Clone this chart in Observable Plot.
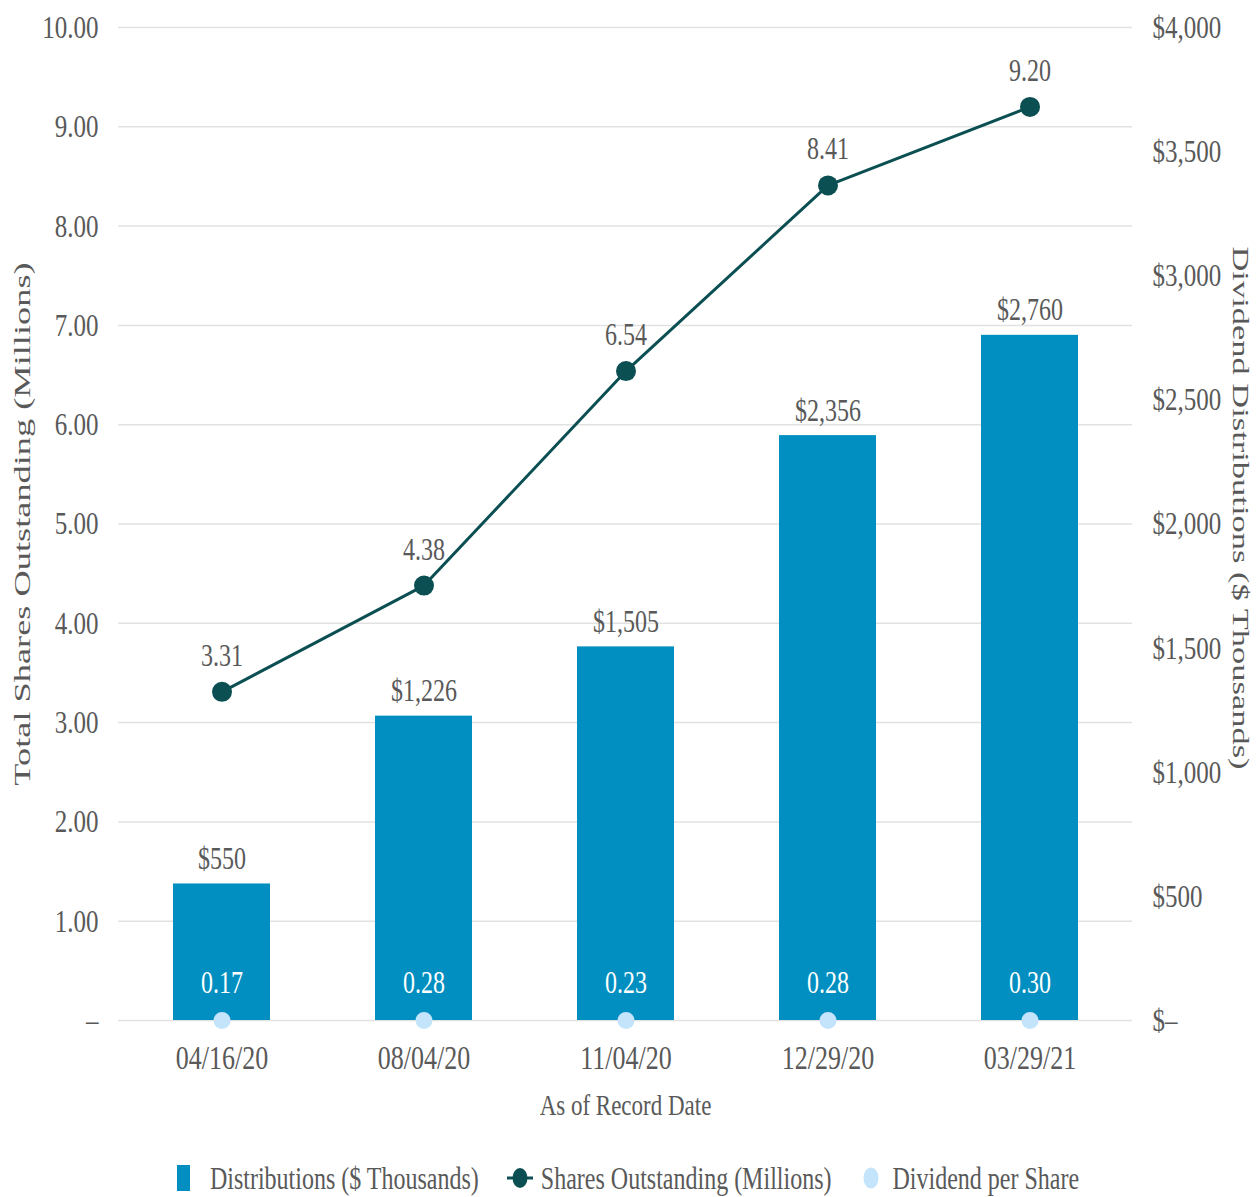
<!DOCTYPE html>
<html><head><meta charset="utf-8">
<script src="https://cdn.jsdelivr.net/npm/d3@7"></script>
<script src="https://cdn.jsdelivr.net/npm/@observablehq/plot@0.6"></script>
<style>
body{margin:0;background:#fff;font-family:"Liberation Serif",serif;}
#chart svg{display:block}
.legend{display:flex;justify-content:center;align-items:center;margin-top:18px;height:40px;color:#595959;font-size:24px;}
.legend .item{display:flex;align-items:center;}
.legend span{display:inline-block;transform:scaleY(1.35);white-space:nowrap;}
</style></head><body>
<div id="chart"></div>
<div class="legend" id="legend"></div>
<script>
const dates = ["04/16/20","08/04/20","11/04/20","12/29/20","03/29/21"];
const distributions = [550, 1226, 1505, 2356, 2760];
const shares = [3.31, 4.38, 6.54, 8.41, 9.20];
const dividends = [0.17, 0.28, 0.23, 0.28, 0.30];
const leftTicks = [0,1,2,3,4,5,6,7,8,9,10];
const rightTicks = [0,500,1000,1500,2000,2500,3000,3500,4000];
const leftMax = 10, rightMax = 4000, ratio = rightMax / leftMax;

const barColor = "#008fc0", lineColor = "#0b4f52", divColor = "#c4e4fb", textColor = "#595959";

const rows = dates.map((d, i) => ({date: d, dist: distributions[i], shares: shares[i], div: dividends[i]}));
const fmtMoney = d3.format(",");

const chart = Plot.plot({
  width: 1256,
  height: 1140,
  marginLeft: 118,
  marginRight: 124,
  marginTop: 27,
  marginBottom: 120,
  style: {fontFamily: "'Liberation Serif', serif", fontSize: "24px", color: textColor, background: "#fff"},
  x: {type: "band", domain: dates, paddingInner: 0.52, paddingOuter: 0.26},
  y: {domain: [0, rightMax]},
  marks: [
    Plot.gridY(leftTicks.map(t => t * ratio), {stroke: "#e2e2e2", strokeOpacity: 1, strokeWidth: 1.5}),
    Plot.barY(rows, {x: "date", y: "dist", fill: barColor}),
    Plot.axisY(leftTicks.map(t => t * ratio), {anchor: "left", tickSize: 0, tickPadding: 20, fontSize: 25, fill: textColor,
      tickFormat: d => d === 0 ? "–" : (d / ratio).toFixed(2), label: null}),
    Plot.axisY(rightTicks, {anchor: "right", tickSize: 0, tickPadding: 20, fontSize: 25, fill: textColor,
      tickFormat: d => d === 0 ? "$–" : "$" + fmtMoney(d), label: null}),
    Plot.axisX({tickSize: 0, tickPadding: 24, fontSize: 26, fill: textColor, label: null}),
    Plot.line(rows, {x: "date", y: d => d.shares * ratio, stroke: lineColor, strokeWidth: 3}),
    Plot.dot(rows, {x: "date", y: d => d.shares * ratio, r: 10, fill: lineColor}),
    Plot.text(rows, {x: "date", y: d => d.shares * ratio, text: d => d.shares.toFixed(2), lineAnchor: "bottom", dy: -26, fontSize: 24, fill: textColor}),
    Plot.text(rows, {x: "date", y: "dist", text: d => "$" + fmtMoney(d.dist), lineAnchor: "bottom", dy: -15, fontSize: 24, fill: textColor}),
    Plot.dot(rows, {x: "date", y: "div", r: 8.5, fill: divColor}),
    Plot.text(rows, {x: "date", y: "div", text: d => d.div.toFixed(2), lineAnchor: "bottom", dy: -27, fontSize: 24, fill: "#ffffff"}),
    Plot.text(["As of Record Date"], {text: d => d, frameAnchor: "bottom", dy: 85, lineAnchor: "middle", textAnchor: "middle", fontSize: 23, fill: textColor}),
    Plot.text(["Total Shares Outstanding (Millions)"], {text: d => d, frameAnchor: "left", dx: -96, rotate: -90, textAnchor: "middle", lineAnchor: "middle", fontSize: 23, fill: textColor}),
    Plot.text(["Dividend Distributions ($ Thousands)"], {text: d => d, frameAnchor: "right", dx: 108, dy: -16, rotate: 90, textAnchor: "middle", lineAnchor: "middle", fontSize: 23, fill: textColor})
  ]
});
document.getElementById("chart").appendChild(chart);

// stretch texts to match the reference's tall lettering
chart.querySelectorAll("text").forEach(t => {
  const tr = t.getAttribute("transform");
  const content = t.textContent;
  if (tr && tr.includes("rotate")) {
    const s = content.startsWith("Total") ? 1.58 : 1.5;
    t.setAttribute("transform", tr + ` scale(${s},1)`);
  } else if (tr) {
    t.setAttribute("transform", tr + " scale(1,1.3)");
  } else {
    const x = +t.getAttribute("x") || 0, y = +t.getAttribute("y") || 0;
    t.setAttribute("transform", `translate(${x},${y}) scale(1,1.3) translate(${-x},${-y})`);
  }
});

const legend = document.getElementById("legend");
legend.innerHTML = `
  <div class="item">
    <svg width="13" height="28"><rect x="0" y="1" width="13" height="26" fill="${barColor}"/></svg>
    <span style="margin-left:20px">Distributions ($ Thousands)</span>
  </div>
  <div class="item" style="margin-left:28px">
    <svg width="26" height="28"><line x1="0" x2="26" y1="14" y2="14" stroke="${lineColor}" stroke-width="3"/><ellipse cx="13" cy="14" rx="7.5" ry="10" fill="${lineColor}"/></svg>
    <span style="margin-left:8px">Shares Outstanding (Millions)</span>
  </div>
  <div class="item" style="margin-left:32px">
    <svg width="16" height="28"><ellipse cx="8" cy="14" rx="7.5" ry="10.5" fill="${divColor}"/></svg>
    <span style="margin-left:13px">Dividend per Share</span>
  </div>`;
</script>
</body></html>
